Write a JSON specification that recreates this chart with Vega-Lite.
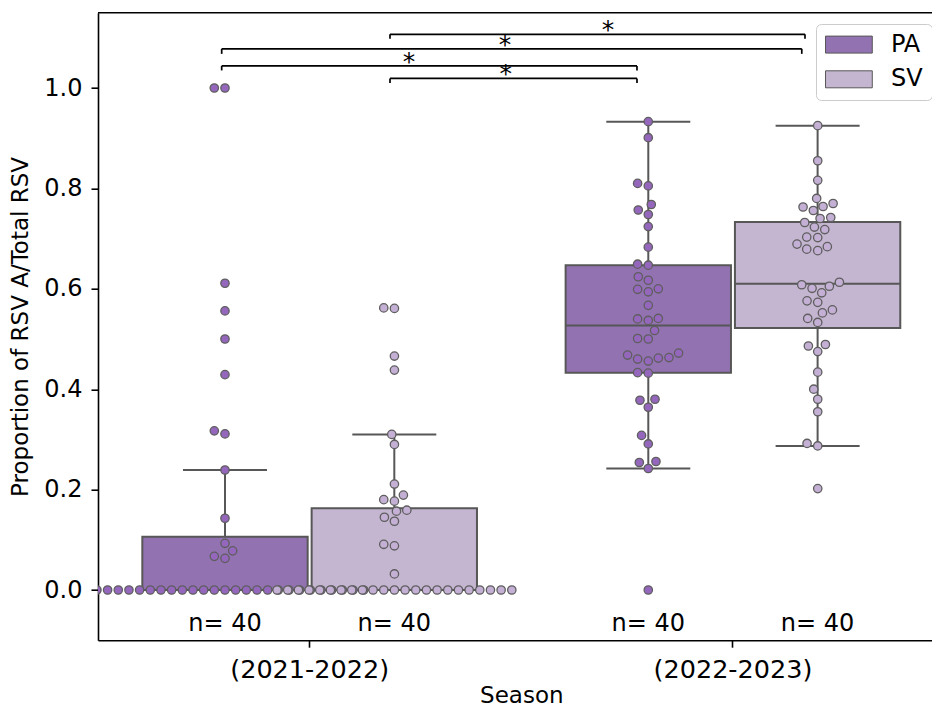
{
  "$schema": "https://vega.github.io/schema/vega-lite/v6.json",
  "width": 834,
  "height": 627.5,
  "autosize": {"type": "none"},
  "padding": {"left": 98, "top": 12.7, "right": 0, "bottom": 68.8},
  "config": {
    "view": {"stroke": null},
    "font": "DejaVu Sans",
    "axis": {"grid": false, "domainColor": "#000", "domainWidth": 1.6, "tickColor": "#000", "tickWidth": 1.6, "tickSize": 7, "labelColor": "#000", "labelFontSize": 24, "titleColor": "#000", "titleFontSize": 23, "titleFontWeight": "normal"}
  },
  "datasets": {
    "boxes": [
      {"season": "(2021-2022)", "group": "PA", "q1": 0, "median": 0, "q3": 0.106, "lo": 0, "hi": 0.239, "n": "n= 40"},
      {"season": "(2021-2022)", "group": "SV", "q1": 0, "median": 0, "q3": 0.163, "lo": 0, "hi": 0.31, "n": "n= 40"},
      {"season": "(2022-2023)", "group": "PA", "q1": 0.433, "median": 0.527, "q3": 0.647, "lo": 0.242, "hi": 0.933, "n": "n= 40"},
      {"season": "(2022-2023)", "group": "SV", "q1": 0.522, "median": 0.61, "q3": 0.733, "lo": 0.287, "hi": 0.925, "n": "n= 40"}
    ],
    "brackets": [
      {"from": "(2021-2022) SV", "to": "(2022-2023) SV", "x_from": 0.1898, "x_to": 1.1702, "level": 1.107, "tip": 1.098, "star_x": 0.7048, "label": "*"},
      {"from": "(2021-2022) PA", "to": "(2022-2023) SV", "x_from": -0.2078, "x_to": 1.1626, "level": 1.078, "tip": 1.068, "star_x": 0.4615, "label": "*"},
      {"from": "(2021-2022) PA", "to": "(2022-2023) PA", "x_from": -0.2078, "x_to": 0.7733, "level": 1.044, "tip": 1.035, "star_x": 0.2347, "label": "*"},
      {"from": "(2021-2022) SV", "to": "(2022-2023) PA", "x_from": 0.1898, "x_to": 0.7733, "level": 1.019, "tip": 1.01, "star_x": 0.4632, "label": "*"}
    ],
    "points": [
      {"season": "(2021-2022)", "group": "PA", "value": 0, "dodge": -12},
      {"season": "(2021-2022)", "group": "PA", "value": 0, "dodge": -11},
      {"season": "(2021-2022)", "group": "PA", "value": 0, "dodge": -10},
      {"season": "(2021-2022)", "group": "PA", "value": 0, "dodge": -9},
      {"season": "(2021-2022)", "group": "PA", "value": 0, "dodge": -8},
      {"season": "(2021-2022)", "group": "PA", "value": 0, "dodge": -7},
      {"season": "(2021-2022)", "group": "PA", "value": 0, "dodge": -6},
      {"season": "(2021-2022)", "group": "PA", "value": 0, "dodge": -5},
      {"season": "(2021-2022)", "group": "PA", "value": 0, "dodge": -4},
      {"season": "(2021-2022)", "group": "PA", "value": 0, "dodge": -3},
      {"season": "(2021-2022)", "group": "PA", "value": 0, "dodge": -2},
      {"season": "(2021-2022)", "group": "PA", "value": 0, "dodge": -1},
      {"season": "(2021-2022)", "group": "PA", "value": 0, "dodge": 0},
      {"season": "(2021-2022)", "group": "PA", "value": 0, "dodge": 1},
      {"season": "(2021-2022)", "group": "PA", "value": 0, "dodge": 2},
      {"season": "(2021-2022)", "group": "PA", "value": 0, "dodge": 3},
      {"season": "(2021-2022)", "group": "PA", "value": 0, "dodge": 4},
      {"season": "(2021-2022)", "group": "PA", "value": 0, "dodge": 5},
      {"season": "(2021-2022)", "group": "PA", "value": 0, "dodge": 6},
      {"season": "(2021-2022)", "group": "PA", "value": 0, "dodge": 7},
      {"season": "(2021-2022)", "group": "PA", "value": 0, "dodge": 8},
      {"season": "(2021-2022)", "group": "PA", "value": 0, "dodge": 9},
      {"season": "(2021-2022)", "group": "PA", "value": 0, "dodge": 10},
      {"season": "(2021-2022)", "group": "PA", "value": 0, "dodge": 11},
      {"season": "(2021-2022)", "group": "PA", "value": 0, "dodge": 12},
      {"season": "(2021-2022)", "group": "PA", "value": 0, "dodge": 13},
      {"season": "(2021-2022)", "group": "PA", "value": 1.0, "dodge": -1},
      {"season": "(2021-2022)", "group": "PA", "value": 1.0, "dodge": 0},
      {"season": "(2021-2022)", "group": "PA", "value": 0.611, "dodge": 0},
      {"season": "(2021-2022)", "group": "PA", "value": 0.556, "dodge": 0},
      {"season": "(2021-2022)", "group": "PA", "value": 0.5, "dodge": 0},
      {"season": "(2021-2022)", "group": "PA", "value": 0.429, "dodge": 0},
      {"season": "(2021-2022)", "group": "PA", "value": 0.317, "dodge": -1},
      {"season": "(2021-2022)", "group": "PA", "value": 0.311, "dodge": 0},
      {"season": "(2021-2022)", "group": "PA", "value": 0.239, "dodge": 0},
      {"season": "(2021-2022)", "group": "PA", "value": 0.143, "dodge": 0},
      {"season": "(2021-2022)", "group": "PA", "value": 0.093, "dodge": 0},
      {"season": "(2021-2022)", "group": "PA", "value": 0.078, "dodge": 0.72},
      {"season": "(2021-2022)", "group": "PA", "value": 0.067, "dodge": -1},
      {"season": "(2021-2022)", "group": "PA", "value": 0.063, "dodge": 0},
      {"season": "(2021-2022)", "group": "SV", "value": 0, "dodge": -11},
      {"season": "(2021-2022)", "group": "SV", "value": 0, "dodge": -10},
      {"season": "(2021-2022)", "group": "SV", "value": 0, "dodge": -9},
      {"season": "(2021-2022)", "group": "SV", "value": 0, "dodge": -8},
      {"season": "(2021-2022)", "group": "SV", "value": 0, "dodge": -7},
      {"season": "(2021-2022)", "group": "SV", "value": 0, "dodge": -6},
      {"season": "(2021-2022)", "group": "SV", "value": 0, "dodge": -5},
      {"season": "(2021-2022)", "group": "SV", "value": 0, "dodge": -4},
      {"season": "(2021-2022)", "group": "SV", "value": 0, "dodge": -3},
      {"season": "(2021-2022)", "group": "SV", "value": 0, "dodge": -2},
      {"season": "(2021-2022)", "group": "SV", "value": 0, "dodge": -1},
      {"season": "(2021-2022)", "group": "SV", "value": 0, "dodge": 0},
      {"season": "(2021-2022)", "group": "SV", "value": 0, "dodge": 1},
      {"season": "(2021-2022)", "group": "SV", "value": 0, "dodge": 2},
      {"season": "(2021-2022)", "group": "SV", "value": 0, "dodge": 3},
      {"season": "(2021-2022)", "group": "SV", "value": 0, "dodge": 4},
      {"season": "(2021-2022)", "group": "SV", "value": 0, "dodge": 5},
      {"season": "(2021-2022)", "group": "SV", "value": 0, "dodge": 6},
      {"season": "(2021-2022)", "group": "SV", "value": 0, "dodge": 7},
      {"season": "(2021-2022)", "group": "SV", "value": 0, "dodge": 8},
      {"season": "(2021-2022)", "group": "SV", "value": 0, "dodge": 9},
      {"season": "(2021-2022)", "group": "SV", "value": 0, "dodge": 10},
      {"season": "(2021-2022)", "group": "SV", "value": 0, "dodge": 11},
      {"season": "(2021-2022)", "group": "SV", "value": 0.562, "dodge": -1},
      {"season": "(2021-2022)", "group": "SV", "value": 0.561, "dodge": 0},
      {"season": "(2021-2022)", "group": "SV", "value": 0.466, "dodge": 0},
      {"season": "(2021-2022)", "group": "SV", "value": 0.438, "dodge": 0},
      {"season": "(2021-2022)", "group": "SV", "value": 0.31, "dodge": -0.25},
      {"season": "(2021-2022)", "group": "SV", "value": 0.29, "dodge": 0},
      {"season": "(2021-2022)", "group": "SV", "value": 0.211, "dodge": 0},
      {"season": "(2021-2022)", "group": "SV", "value": 0.189, "dodge": 0.84},
      {"season": "(2021-2022)", "group": "SV", "value": 0.18, "dodge": -1},
      {"season": "(2021-2022)", "group": "SV", "value": 0.177, "dodge": 0},
      {"season": "(2021-2022)", "group": "SV", "value": 0.157, "dodge": 0.19},
      {"season": "(2021-2022)", "group": "SV", "value": 0.159, "dodge": 1.16},
      {"season": "(2021-2022)", "group": "SV", "value": 0.145, "dodge": -0.94},
      {"season": "(2021-2022)", "group": "SV", "value": 0.137, "dodge": 0},
      {"season": "(2021-2022)", "group": "SV", "value": 0.091, "dodge": -1},
      {"season": "(2021-2022)", "group": "SV", "value": 0.088, "dodge": 0},
      {"season": "(2021-2022)", "group": "SV", "value": 0.032, "dodge": 0},
      {"season": "(2022-2023)", "group": "PA", "value": 0.933, "dodge": 0},
      {"season": "(2022-2023)", "group": "PA", "value": 0.901, "dodge": 0},
      {"season": "(2022-2023)", "group": "PA", "value": 0.81, "dodge": -1},
      {"season": "(2022-2023)", "group": "PA", "value": 0.805, "dodge": 0},
      {"season": "(2022-2023)", "group": "PA", "value": 0.768, "dodge": 0.28},
      {"season": "(2022-2023)", "group": "PA", "value": 0.757, "dodge": -0.94},
      {"season": "(2022-2023)", "group": "PA", "value": 0.748, "dodge": 0},
      {"season": "(2022-2023)", "group": "PA", "value": 0.724, "dodge": 0},
      {"season": "(2022-2023)", "group": "PA", "value": 0.683, "dodge": 0},
      {"season": "(2022-2023)", "group": "PA", "value": 0.649, "dodge": -1},
      {"season": "(2022-2023)", "group": "PA", "value": 0.647, "dodge": 0},
      {"season": "(2022-2023)", "group": "PA", "value": 0.624, "dodge": -0.94},
      {"season": "(2022-2023)", "group": "PA", "value": 0.617, "dodge": 0},
      {"season": "(2022-2023)", "group": "PA", "value": 0.599, "dodge": -1},
      {"season": "(2022-2023)", "group": "PA", "value": 0.594, "dodge": 0},
      {"season": "(2022-2023)", "group": "PA", "value": 0.6, "dodge": 0.94},
      {"season": "(2022-2023)", "group": "PA", "value": 0.567, "dodge": 0},
      {"season": "(2022-2023)", "group": "PA", "value": 0.54, "dodge": -1},
      {"season": "(2022-2023)", "group": "PA", "value": 0.537, "dodge": 0},
      {"season": "(2022-2023)", "group": "PA", "value": 0.541, "dodge": 0.94},
      {"season": "(2022-2023)", "group": "PA", "value": 0.517, "dodge": 0.59},
      {"season": "(2022-2023)", "group": "PA", "value": 0.501, "dodge": -1},
      {"season": "(2022-2023)", "group": "PA", "value": 0.5, "dodge": 0},
      {"season": "(2022-2023)", "group": "PA", "value": 0.468, "dodge": -1.94},
      {"season": "(2022-2023)", "group": "PA", "value": 0.46, "dodge": -1},
      {"season": "(2022-2023)", "group": "PA", "value": 0.456, "dodge": 0},
      {"season": "(2022-2023)", "group": "PA", "value": 0.462, "dodge": 0.94},
      {"season": "(2022-2023)", "group": "PA", "value": 0.463, "dodge": 1.94},
      {"season": "(2022-2023)", "group": "PA", "value": 0.472, "dodge": 2.84},
      {"season": "(2022-2023)", "group": "PA", "value": 0.433, "dodge": -1},
      {"season": "(2022-2023)", "group": "PA", "value": 0.432, "dodge": 0},
      {"season": "(2022-2023)", "group": "PA", "value": 0.378, "dodge": -0.78},
      {"season": "(2022-2023)", "group": "PA", "value": 0.38, "dodge": 0.63},
      {"season": "(2022-2023)", "group": "PA", "value": 0.364, "dodge": 0},
      {"season": "(2022-2023)", "group": "PA", "value": 0.308, "dodge": -0.63},
      {"season": "(2022-2023)", "group": "PA", "value": 0.291, "dodge": 0},
      {"season": "(2022-2023)", "group": "PA", "value": 0.254, "dodge": -0.84},
      {"season": "(2022-2023)", "group": "PA", "value": 0.256, "dodge": 0.72},
      {"season": "(2022-2023)", "group": "PA", "value": 0.242, "dodge": 0},
      {"season": "(2022-2023)", "group": "PA", "value": 0, "dodge": 0},
      {"season": "(2022-2023)", "group": "SV", "value": 0.925, "dodge": 0},
      {"season": "(2022-2023)", "group": "SV", "value": 0.855, "dodge": 0},
      {"season": "(2022-2023)", "group": "SV", "value": 0.816, "dodge": 0},
      {"season": "(2022-2023)", "group": "SV", "value": 0.78, "dodge": -0.1},
      {"season": "(2022-2023)", "group": "SV", "value": 0.763, "dodge": -1.375},
      {"season": "(2022-2023)", "group": "SV", "value": 0.756, "dodge": -0.41},
      {"season": "(2022-2023)", "group": "SV", "value": 0.764, "dodge": 0.5},
      {"season": "(2022-2023)", "group": "SV", "value": 0.77, "dodge": 1.44},
      {"season": "(2022-2023)", "group": "SV", "value": 0.74, "dodge": 0.22},
      {"season": "(2022-2023)", "group": "SV", "value": 0.742, "dodge": 1.22},
      {"season": "(2022-2023)", "group": "SV", "value": 0.732, "dodge": -1.22},
      {"season": "(2022-2023)", "group": "SV", "value": 0.723, "dodge": -0.31},
      {"season": "(2022-2023)", "group": "SV", "value": 0.718, "dodge": 0.66},
      {"season": "(2022-2023)", "group": "SV", "value": 0.703, "dodge": -1.03},
      {"season": "(2022-2023)", "group": "SV", "value": 0.702, "dodge": 0},
      {"season": "(2022-2023)", "group": "SV", "value": 0.689, "dodge": -1.94},
      {"season": "(2022-2023)", "group": "SV", "value": 0.679, "dodge": -1.03},
      {"season": "(2022-2023)", "group": "SV", "value": 0.676, "dodge": 0},
      {"season": "(2022-2023)", "group": "SV", "value": 0.684, "dodge": 0.9},
      {"season": "(2022-2023)", "group": "SV", "value": 0.608, "dodge": -1.5},
      {"season": "(2022-2023)", "group": "SV", "value": 0.601, "dodge": -0.53},
      {"season": "(2022-2023)", "group": "SV", "value": 0.592, "dodge": 0.375},
      {"season": "(2022-2023)", "group": "SV", "value": 0.605, "dodge": 1.09},
      {"season": "(2022-2023)", "group": "SV", "value": 0.613, "dodge": 2.03},
      {"season": "(2022-2023)", "group": "SV", "value": 0.576, "dodge": -1},
      {"season": "(2022-2023)", "group": "SV", "value": 0.573, "dodge": 0},
      {"season": "(2022-2023)", "group": "SV", "value": 0.552, "dodge": 0.44},
      {"season": "(2022-2023)", "group": "SV", "value": 0.558, "dodge": 1.375},
      {"season": "(2022-2023)", "group": "SV", "value": 0.541, "dodge": -0.94},
      {"season": "(2022-2023)", "group": "SV", "value": 0.533, "dodge": 0},
      {"season": "(2022-2023)", "group": "SV", "value": 0.486, "dodge": -0.875},
      {"season": "(2022-2023)", "group": "SV", "value": 0.489, "dodge": 0.72},
      {"season": "(2022-2023)", "group": "SV", "value": 0.475, "dodge": 0},
      {"season": "(2022-2023)", "group": "SV", "value": 0.434, "dodge": 0},
      {"season": "(2022-2023)", "group": "SV", "value": 0.4, "dodge": -0.375},
      {"season": "(2022-2023)", "group": "SV", "value": 0.38, "dodge": 0},
      {"season": "(2022-2023)", "group": "SV", "value": 0.355, "dodge": 0},
      {"season": "(2022-2023)", "group": "SV", "value": 0.292, "dodge": -1},
      {"season": "(2022-2023)", "group": "SV", "value": 0.287, "dodge": 0},
      {"season": "(2022-2023)", "group": "SV", "value": 0.202, "dodge": 0}
    ]
  },
  "layer": [
    {
      "data": {"name": "boxes"},
      "encoding": {
        "x": {"field": "season", "type": "nominal", "scale": {"domain": ["(2021-2022)", "(2022-2023)"], "range": [0, 846.6], "paddingInner": 0, "paddingOuter": 0}, "axis": {"title": "Season", "labelAngle": 0, "labelFontSize": 25.5, "labelPadding": 10, "titlePadding": 2}},
        "xOffset": {"field": "group", "type": "nominal", "scale": {"domain": ["PA", "SV"], "paddingInner": 0.0235, "paddingOuter": 0.2618}}
      },
      "layer": [
        {
          "mark": {"type": "rule", "color": "#575757", "strokeWidth": 2},
          "encoding": {
            "y": {"field": "lo", "type": "quantitative", "scale": {"domain": [-0.1, 1.15], "nice": false, "zero": false}, "title": "Proportion of RSV A/Total RSV", "axis": {"values": [0, 0.2, 0.4, 0.6, 0.8, 1.0], "format": ".1f", "labelPadding": 9, "titlePadding": 11}},
            "y2": {"field": "q1"}
          }
        },
        {
          "mark": {"type": "rule", "color": "#575757", "strokeWidth": 2},
          "encoding": {
            "y": {"field": "q3", "type": "quantitative", "scale": {"domain": [-0.1, 1.15], "nice": false, "zero": false}, "title": "Proportion of RSV A/Total RSV"},
            "y2": {"field": "hi"}
          }
        },
        {
          "mark": {"type": "tick", "color": "#575757", "size": 84, "thickness": 2, "opacity": 1},
          "encoding": {
            "y": {"field": "lo", "type": "quantitative", "scale": {"domain": [-0.1, 1.15], "nice": false, "zero": false}, "title": "Proportion of RSV A/Total RSV"}
          }
        },
        {
          "mark": {"type": "tick", "color": "#575757", "size": 84, "thickness": 2, "opacity": 1},
          "encoding": {
            "y": {"field": "hi", "type": "quantitative", "scale": {"domain": [-0.1, 1.15], "nice": false, "zero": false}, "title": "Proportion of RSV A/Total RSV"}
          }
        },
        {
          "mark": {"type": "bar", "stroke": "#575757", "strokeWidth": 2, "opacity": 1},
          "encoding": {
            "y": {"field": "q1", "type": "quantitative", "scale": {"domain": [-0.1, 1.15], "nice": false, "zero": false}, "title": "Proportion of RSV A/Total RSV"},
            "y2": {"field": "q3"},
            "color": {"field": "group", "type": "nominal", "scale": {"domain": ["PA", "SV"], "range": ["#9372b2", "#c4b5d0"]},
              "legend": {"title": null, "orient": "none", "legendX": 718, "legendY": 11.3, "symbolType": "M-2.75,-1H2.75V1H-2.75Z", "symbolSize": 289, "symbolStrokeColor": "#575757", "symbolStrokeWidth": 1, "symbolOpacity": 1, "symbolOffset": 12.3, "labelOffset": 30, "labelFontSize": 24, "labelColor": "#000", "padding": 8.6, "rowPadding": 10.7, "strokeColor": "#cccccc", "fillColor": "rgba(255,255,255,0.8)", "cornerRadius": 5}}
          }
        },
        {
          "mark": {"type": "bar", "fill": "transparent", "stroke": "#575757", "strokeWidth": 2},
          "encoding": {
            "y": {"field": "median", "type": "quantitative", "scale": {"domain": [-0.1, 1.15], "nice": false, "zero": false}, "title": "Proportion of RSV A/Total RSV"},
            "y2": {"field": "median"}
          }
        },
        {
          "mark": {"type": "text", "fontSize": 24, "color": "#000", "align": "center", "baseline": "alphabetic"},
          "encoding": {
            "y": {"datum": -0.081, "type": "quantitative", "scale": {"domain": [-0.1, 1.15], "nice": false, "zero": false}, "title": "Proportion of RSV A/Total RSV"},
            "text": {"field": "n"}
          }
        }
      ]
    },
    {
      "data": {"name": "points"},
      "transform": [{"filter": "datum.group === 'PA'"}],
      "mark": {"type": "point", "filled": true, "shape": "circle", "size": 70, "fill": "#9467bd", "stroke": "#5e5e5e", "strokeWidth": 1.3, "opacity": 1, "fillOpacity": 1, "strokeOpacity": 1, "clip": true},
      "encoding": {
        "x": {"field": "season", "type": "nominal", "scale": {"domain": ["(2021-2022)", "(2022-2023)"], "range": [0, 846.6], "paddingInner": 0, "paddingOuter": 0}, "axis": null},
        "xOffset": {"field": "dodge", "type": "quantitative", "scale": {"domain": [-11.9, 27.77], "nice": false, "zero": false}},
        "y": {"field": "value", "type": "quantitative", "scale": {"domain": [-0.1, 1.15], "nice": false, "zero": false}, "title": "Proportion of RSV A/Total RSV"}
      }
    },
    {
      "data": {"name": "points"},
      "transform": [{"filter": "datum.group === 'SV'"}],
      "mark": {"type": "point", "filled": true, "shape": "circle", "size": 70, "fill": "#c5b0d5", "stroke": "#5e5e5e", "strokeWidth": 1.3, "opacity": 1, "fillOpacity": 1, "strokeOpacity": 1, "clip": true},
      "encoding": {
        "x": {"field": "season", "type": "nominal", "scale": {"domain": ["(2021-2022)", "(2022-2023)"], "range": [0, 846.6], "paddingInner": 0, "paddingOuter": 0}, "axis": null},
        "xOffset": {"field": "dodge", "type": "quantitative", "scale": {"domain": [-27.78, 11.89], "nice": false, "zero": false}},
        "y": {"field": "value", "type": "quantitative", "scale": {"domain": [-0.1, 1.15], "nice": false, "zero": false}, "title": "Proportion of RSV A/Total RSV"}
      }
    },
    {
      "data": {"name": "brackets"},
      "encoding": {
        "x": {"field": "x_from", "type": "quantitative", "scale": {"domain": [-0.5, 1.5], "range": [0, 846.6], "nice": false, "zero": false}, "axis": null}
      },
      "layer": [
        {
          "mark": {"type": "rule", "color": "#000", "strokeWidth": 1.7},
          "encoding": {
            "x2": {"field": "x_to"},
            "y": {"field": "level", "type": "quantitative", "scale": {"domain": [-0.1, 1.15], "nice": false, "zero": false}, "title": "Proportion of RSV A/Total RSV"}
          }
        },
        {
          "mark": {"type": "rule", "color": "#000", "strokeWidth": 1.7},
          "encoding": {
            "y": {"field": "level", "type": "quantitative", "scale": {"domain": [-0.1, 1.15], "nice": false, "zero": false}, "title": "Proportion of RSV A/Total RSV"},
            "y2": {"field": "tip"}
          }
        },
        {
          "mark": {"type": "rule", "color": "#000", "strokeWidth": 1.7},
          "encoding": {
            "x": {"field": "x_to", "type": "quantitative", "scale": {"domain": [-0.5, 1.5], "range": [0, 846.6], "nice": false, "zero": false}, "axis": null},
            "y": {"field": "level", "type": "quantitative", "scale": {"domain": [-0.1, 1.15], "nice": false, "zero": false}, "title": "Proportion of RSV A/Total RSV"},
            "y2": {"field": "tip"}
          }
        },
        {
          "mark": {"type": "text", "fontSize": 25, "color": "#000", "align": "center", "baseline": "alphabetic", "dy": 4},
          "encoding": {
            "x": {"field": "star_x", "type": "quantitative", "scale": {"domain": [-0.5, 1.5], "range": [0, 846.6], "nice": false, "zero": false}, "axis": null},
            "y": {"field": "level", "type": "quantitative", "scale": {"domain": [-0.1, 1.15], "nice": false, "zero": false}, "title": "Proportion of RSV A/Total RSV"},
            "text": {"field": "label"}
          }
        }
      ]
    },
    {
      "data": {"values": [{}]},
      "mark": {"type": "rule", "color": "#000", "strokeWidth": 1.6},
      "encoding": {
        "y": {"datum": 1.15, "type": "quantitative", "scale": {"domain": [-0.1, 1.15], "nice": false, "zero": false}, "title": "Proportion of RSV A/Total RSV"}
      }
    }
  ],
  "resolve": {"scale": {"x": "independent", "xOffset": "independent"}, "axis": {"x": "independent"}}
}
